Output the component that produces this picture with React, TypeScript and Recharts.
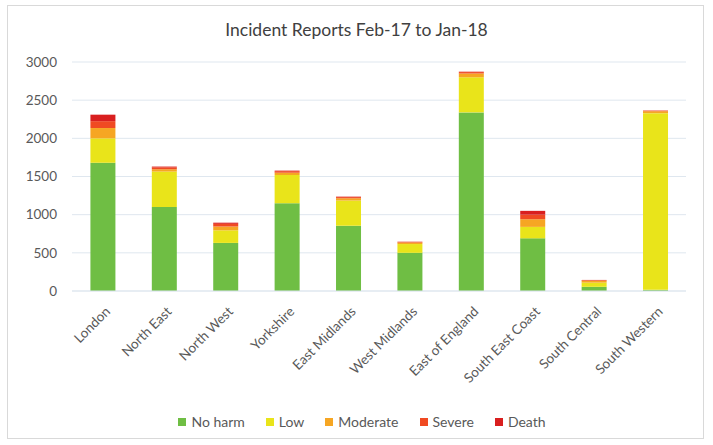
import { BarChart, Bar, XAxis, YAxis, CartesianGrid, Legend } from 'recharts'

const regions = [
    'London', 'North East', 'North West', 'Yorkshire', 'East Midlands',
    'West Midlands', 'East of England', 'South East Coast', 'South Central', 'South Western',
]
const noHarm = [1680, 1100, 630, 1150, 855, 500, 2340, 690, 55, 15]
const low = [320, 465, 165, 370, 330, 115, 460, 150, 55, 2315]
const moderate = [135, 30, 50, 30, 30, 20, 50, 100, 25, 25]
const severe = [90, 25, 35, 20, 15, 8, 18, 60, 8, 8]
const death = [85, 10, 15, 7, 6, 3, 5, 50, 2, 2]
const yTicks = [0, 500, 1000, 1500, 2000, 2500, 3000]

const seriesNames = ['No harm', 'Low', 'Moderate', 'Severe', 'Death']
const seriesColors = ['#6fbe44', '#e9e41a', '#f6a623', '#f04a22', '#d91f1f']

const data = regions.map((region, i) => ({
    region,
    noHarm: noHarm[i],
    low: low[i],
    moderate: moderate[i],
    severe: severe[i],
    death: death[i],
}))

const FONT = 'Lato, "Open Sans", sans-serif'
const TEXT = '#595959'

function RegionTick({ x, y, payload }: any) {
    return (
        <text
            x={x + 1}
            y={y + 6}
            transform={`rotate(-45, ${x + 1}, ${y + 6})`}
            textAnchor="end"
            dominantBaseline="hanging"
            fill={TEXT}
            fontSize={13.5}
            fontFamily={FONT}
        >
            {payload.value}
        </text>
    )
}

// legend is centred on the whole box, not on the plot area
function LegendContent() {
    return (
        <div
            style={{
                display: 'flex',
                justifyContent: 'center',
                gap: 21,
                fontSize: 14,
                color: TEXT,
                paddingLeft: 38,
            }}
        >
            {seriesNames.map((name, i) => (
                <span key={name} style={{ display: 'flex', alignItems: 'center' }}>
                    <span
                        style={{
                            display: 'inline-block',
                            width: 8,
                            height: 8,
                            background: seriesColors[i],
                            marginRight: 5,
                        }}
                    />
                    {name}
                </span>
            ))}
        </div>
    )
}

export default function App() {
    return (
        <div
            style={{
                position: 'absolute',
                left: 0,
                top: 0,
                width: 713,
                height: 445,
                background: '#fff',
                fontFamily: FONT,
            }}
        >
            <div
                style={{
                    position: 'absolute',
                    left: 7,
                    top: 5,
                    width: 697,
                    height: 434,
                    border: '1px solid #d9d9d9',
                    boxSizing: 'border-box',
                }}
            />
            <div
                style={{
                    position: 'absolute',
                    left: 0,
                    width: 713,
                    top: 19,
                    textAlign: 'center',
                    fontSize: 17.5,
                    color: '#404040',
                }}
            >
                Incident Reports Feb-17 to Jan-18
            </div>
            <BarChart
                width={713}
                height={445}
                data={data}
                margin={{ top: 62, right: 27, left: 0, bottom: 8 }}
                barCategoryGap="30%"
            >
                <CartesianGrid vertical={false} stroke="#dfe7ef" />
                <XAxis
                    dataKey="region"
                    tick={<RegionTick />}
                    tickLine={false}
                    axisLine={{ stroke: '#dfe7ef' }}
                    height={122}
                    interval={0}
                />
                <YAxis
                    width={72}
                    domain={[0, 3000]}
                    ticks={yTicks}
                    tickLine={false}
                    axisLine={false}
                    tick={{ fill: TEXT, fontSize: 13.5, fontFamily: FONT }}
                    tickMargin={9}
                />
                <Legend verticalAlign="bottom" height={24} content={<LegendContent />} />
                <Bar dataKey="noHarm" name="No harm" stackId="a" fill={seriesColors[0]} isAnimationActive={false} />
                <Bar dataKey="low" name="Low" stackId="a" fill={seriesColors[1]} isAnimationActive={false} />
                <Bar dataKey="moderate" name="Moderate" stackId="a" fill={seriesColors[2]} isAnimationActive={false} />
                <Bar dataKey="severe" name="Severe" stackId="a" fill={seriesColors[3]} isAnimationActive={false} />
                <Bar dataKey="death" name="Death" stackId="a" fill={seriesColors[4]} isAnimationActive={false} />
            </BarChart>
        </div>
    )
}
